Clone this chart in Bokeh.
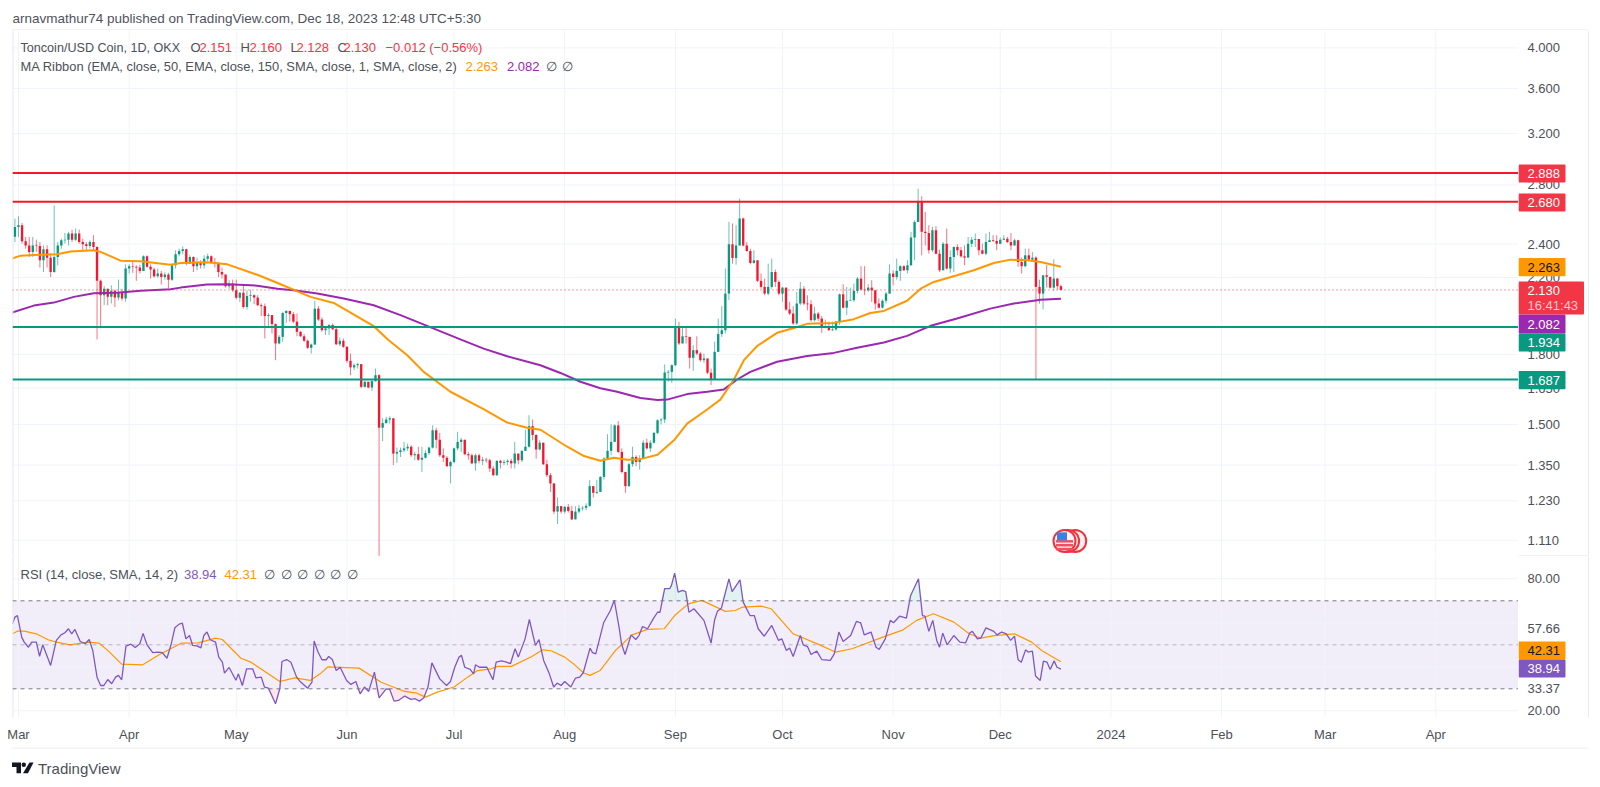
import numpy as np
from bokeh.plotting import figure
from bokeh.layouts import column, row
from bokeh.models import Range1d, FixedTicker, Span, BoxAnnotation, Label, LinearAxis, LogScale
from bokeh.core.properties import value
from bokeh.embed import file_html
from bokeh.resources import INLINE

# ---------- chart values ----------
first_day = -1   # day numbers count from 1 Mar 2023
closes = [2.510,2.521,2.418,2.392,2.352,2.392,2.388,2.301,2.368,2.317,
2.232,2.321,2.392,2.424,2.428,2.467,2.428,2.467,2.413,2.399,
2.388,2.413,2.382,2.181,2.101,2.137,2.092,2.125,2.088,2.119,
2.083,2.252,2.266,2.262,2.258,2.238,2.325,2.262,2.246,2.207,
2.223,2.203,2.217,2.188,2.271,2.337,2.358,2.368,2.281,2.321,
2.266,2.285,2.271,2.311,2.325,2.289,2.285,2.232,2.217,2.151,
2.166,2.128,2.087,2.115,2.038,2.097,2.101,2.088,2.047,2.042,
1.990,1.995,1.949,1.853,1.885,2.006,2.017,2.000,1.961,1.910,
1.888,1.866,1.832,1.848,2.029,1.972,1.918,1.927,1.944,1.923,
1.849,1.866,1.837,1.771,1.741,1.751,1.756,1.655,1.677,1.652,
1.680,1.706,1.488,1.506,1.520,1.525,1.391,1.397,1.403,1.410,
1.416,1.385,1.389,1.369,1.376,1.393,1.413,1.478,1.442,1.385,
1.376,1.346,1.361,1.410,1.434,1.442,1.389,1.385,1.356,1.385,
1.365,1.369,1.367,1.338,1.315,1.365,1.358,1.361,1.365,1.356,
1.391,1.367,1.401,1.416,1.494,1.460,1.406,1.431,1.353,1.315,
1.287,1.196,1.213,1.196,1.211,1.198,1.172,1.196,1.206,1.208,
1.214,1.278,1.256,1.259,1.309,1.373,1.401,1.434,1.497,1.397,
1.326,1.278,1.353,1.379,1.361,1.373,1.431,1.410,1.431,1.468,
1.517,1.520,1.718,1.721,1.751,1.935,1.853,1.888,1.885,1.785,
1.821,1.805,1.774,1.782,1.717,1.687,1.813,1.899,1.918,2.110,
2.399,2.315,2.392,2.565,2.392,2.358,2.285,2.301,2.181,2.147,
2.110,2.147,2.232,2.175,2.110,2.143,2.024,2.003,1.952,2.056,
2.137,2.056,2.052,1.969,2.003,1.977,1.932,1.935,1.918,1.922,
1.961,2.106,2.034,2.071,2.074,2.125,2.194,2.132,2.128,2.143,
2.128,2.056,2.034,2.071,2.110,2.223,2.203,2.238,2.266,2.242,
2.271,2.441,2.543,2.678,2.478,2.471,2.362,2.488,2.341,2.242,
2.403,2.252,2.321,2.382,2.362,2.325,2.317,2.403,2.428,2.432,
2.362,2.341,2.413,2.424,2.420,2.403,2.428,2.434,2.413,2.392,
2.424,2.291,2.266,2.331,2.305,2.317,2.147,2.110,2.213,2.204,
2.143,2.194,2.151,2.130]
first_open = 2.446
highs = [2.565,2.580,2.536,2.445,2.445,2.445,2.428,2.413,2.392,2.392,
2.345,2.654,2.413,2.434,2.471,2.478,2.492,2.499,2.492,2.434,
2.413,2.424,2.456,2.386,2.188,2.151,2.128,2.156,2.132,2.188,
2.137,2.277,2.277,2.291,2.271,2.275,2.331,2.331,2.277,2.258,
2.252,2.238,2.230,2.227,2.277,2.362,2.372,2.386,2.372,2.331,
2.325,2.317,2.301,2.331,2.341,2.331,2.315,2.291,2.258,2.213,
2.185,2.188,2.188,2.119,2.162,2.128,2.132,2.106,2.101,2.056,
2.056,2.006,1.995,1.952,1.894,2.011,2.020,2.011,2.011,2.003,
1.915,1.899,1.872,1.853,2.071,2.042,1.983,1.935,1.949,1.952,
1.932,1.882,1.877,1.840,1.805,1.759,1.762,1.751,1.680,1.677,
1.684,1.736,1.710,1.525,1.530,1.533,1.510,1.413,1.413,1.434,
1.428,1.422,1.397,1.416,1.416,1.403,1.416,1.497,1.488,1.468,
1.410,1.382,1.365,1.413,1.472,1.449,1.442,1.397,1.391,1.391,
1.391,1.379,1.376,1.373,1.346,1.367,1.369,1.369,1.371,1.373,
1.434,1.389,1.403,1.480,1.537,1.520,1.463,1.440,1.428,1.369,
1.323,1.285,1.241,1.211,1.213,1.220,1.214,1.213,1.217,1.213,
1.222,1.298,1.276,1.298,1.312,1.379,1.463,1.501,1.501,1.514,
1.410,1.326,1.358,1.416,1.385,1.385,1.440,1.446,1.440,1.472,
1.521,1.525,1.755,1.729,1.755,1.977,1.960,1.935,1.935,1.882,
1.845,1.888,1.813,1.805,1.782,1.736,1.862,1.977,2.042,2.252,
2.543,2.532,2.521,2.702,2.571,2.413,2.372,2.362,2.301,2.223,
2.194,2.281,2.311,2.246,2.185,2.147,2.143,2.065,2.042,2.119,
2.175,2.151,2.101,2.074,2.038,2.011,1.990,1.972,1.961,1.961,
1.965,2.110,2.162,2.147,2.143,2.166,2.203,2.266,2.266,2.162,
2.185,2.128,2.083,2.078,2.119,2.277,2.242,2.311,2.271,2.271,
2.301,2.478,2.554,2.773,2.718,2.609,2.521,2.510,2.515,2.366,
2.413,2.499,2.362,2.386,2.399,2.382,2.392,2.445,2.445,2.467,
2.413,2.403,2.467,2.478,2.456,2.456,2.441,2.456,2.445,2.471,
2.434,2.428,2.317,2.372,2.372,2.352,2.325,2.188,2.213,2.272,
2.204,2.307,2.198,2.160]
lows = [2.413,2.445,2.403,2.372,2.321,2.321,2.352,2.258,2.232,2.258,
2.203,2.227,2.271,2.372,2.403,2.392,2.413,2.420,2.403,2.358,
2.362,2.372,2.362,1.872,1.927,2.047,2.047,2.056,2.038,2.074,
2.071,2.065,2.223,2.227,2.181,2.223,2.258,2.256,2.194,2.200,
2.200,2.160,2.188,2.137,2.181,2.252,2.325,2.337,2.271,2.281,
2.232,2.242,2.252,2.252,2.297,2.281,2.258,2.203,2.194,2.143,
2.137,2.119,2.078,2.065,2.029,2.024,2.065,2.052,2.042,1.990,
1.877,1.935,1.902,1.774,1.849,1.861,1.955,1.961,1.955,1.888,
1.885,1.861,1.827,1.805,1.845,1.965,1.910,1.894,1.894,1.918,
1.845,1.840,1.832,1.762,1.706,1.729,1.736,1.649,1.652,1.649,
1.637,1.677,1.060,1.437,1.504,1.504,1.350,1.358,1.379,1.397,
1.401,1.379,1.367,1.365,1.326,1.373,1.385,1.410,1.410,1.379,
1.361,1.344,1.287,1.356,1.403,1.397,1.385,1.369,1.353,1.330,
1.356,1.350,1.358,1.326,1.312,1.312,1.338,1.350,1.350,1.338,
1.338,1.353,1.361,1.403,1.413,1.440,1.373,1.403,1.350,1.309,
1.259,1.188,1.158,1.190,1.190,1.193,1.170,1.183,1.190,1.199,
1.201,1.211,1.241,1.252,1.259,1.300,1.369,1.385,1.434,1.393,
1.321,1.256,1.276,1.344,1.346,1.334,1.373,1.406,1.397,1.428,
1.463,1.501,1.506,1.677,1.672,1.747,1.845,1.853,1.853,1.736,
1.726,1.797,1.767,1.762,1.711,1.663,1.684,1.813,1.885,1.902,
2.074,2.281,2.275,2.390,2.386,2.352,2.277,2.281,2.175,2.137,
2.101,2.101,2.137,2.147,2.101,2.065,2.017,1.995,1.944,1.944,
2.047,2.047,2.020,1.961,1.961,1.965,1.905,1.927,1.915,1.915,
1.915,1.944,2.029,1.995,2.071,2.065,2.110,2.128,2.101,2.119,
2.065,2.024,2.029,2.029,2.056,2.119,2.156,2.188,2.181,2.238,
2.223,2.271,2.301,2.543,2.331,2.392,2.341,2.352,2.337,2.232,
2.242,2.246,2.227,2.232,2.331,2.317,2.271,2.317,2.382,2.382,
2.331,2.337,2.331,2.413,2.413,2.362,2.399,2.424,2.407,2.362,
2.392,2.262,2.223,2.258,2.297,2.291,1.687,2.056,2.024,2.143,
2.138,2.125,2.132,2.128]

ema50_days = [-1.8,0.6,4.3,10.8,14.6,21.1,23,28.6,34.2,42.6,45.4,52.8,58.5,67.8,73.4,81.8,88.3,99.5,103.7,108.9,113.5,121,130.4,136.9,142.5,146.2,153.7,158.4,163,166.8,170.5,174.2,179,183.6,187.3,192.9,196.6,200.4,203.2,207,212.5,217.2,220.9,228.4,234,238.6,242.4,248.9,252.7,256.4,262.9,267.6,273.2,277.9,282.5,286.3,292]
ema50_vals = [2.311,2.329,2.333,2.337,2.354,2.362,2.352,2.299,2.295,2.275,2.285,2.289,2.277,2.209,2.162,2.092,2.059,1.938,1.869,1.797,1.721,1.634,1.561,1.508,1.488,1.480,1.416,1.382,1.365,1.376,1.369,1.371,1.387,1.440,1.504,1.560,1.601,1.687,1.774,1.842,1.905,1.929,1.950,1.955,1.974,2.006,2.017,2.071,2.137,2.175,2.213,2.242,2.285,2.305,2.301,2.291,2.263]
ema150_days = [-1.8,4.3,9.9,15.5,21.1,27.6,34.2,42.6,45.4,52.8,58.5,66.9,72.5,77.1,83.7,91.1,99.5,107,124.3,130.3,136.9,146.2,151.8,157.4,163,167.7,174.2,179,181.7,187.3,192.9,197.6,201.3,205,212.5,220.9,228.4,234.9,242.4,248.9,255.5,262.9,272.2,278.8,286.3,292]
ema150_vals = [2.008,2.045,2.061,2.092,2.112,2.115,2.125,2.134,2.143,2.160,2.162,2.154,2.137,2.128,2.110,2.083,2.047,1.995,1.869,1.828,1.792,1.751,1.716,1.677,1.649,1.634,1.608,1.599,1.601,1.624,1.634,1.644,1.687,1.721,1.767,1.793,1.808,1.832,1.858,1.890,1.940,1.977,2.029,2.056,2.076,2.082]

rsi_days = [-1.7,-1.0,-0.3,0.9,1.6,2.8,3.7,5.0,5.9,6.8,9.0,10.6,11.9,13.0,14.0,14.9,15.8,17.3,18.7,19.8,20.8,22.0,23.0,23.9,25.0,26.1,27.2,28.0,28.9,30.1,31.5,32.7,34.0,34.9,36.0,37.6,39.1,40.3,41.6,42.8,43.8,45.0,45.9,46.9,47.9,48.8,50.0,51.1,51.9,52.8,53.7,55.2,56.1,57.1,57.7,59.0,60.9,61.6,62.7,63.9,65.6,66.5,68.0,68.9,70.0,72.0,73.2,73.8,75.1,76.3,77.9,78.9,81.0,82.2,82.8,83.9,85.0,86.2,86.9,87.9,89.0,90.1,91.9,93.1,94.5,95.7,96.9,98.1,99.7,101.0,103.0,104.0,105.2,106.4,108.2,109.9,111.1,112.3,113.5,114.7,115.8,118.0,119.9,121.0,122.2,123.4,124.1,125.0,126.5,127.5,128.0,129.1,131.2,132.9,133.8,135.3,136.7,137.8,139.1,140.0,141.9,143.1,
144.8,145.8,147.1,148.7,149.9,150.9,152.0,153.0,154.7,156.0,157.2,158.2,160.1,160.8,161.7,163.9,165.8,166.9,168.3,168.9,169.9,171.6,172.9,173.8,174.8,176.2,177.8,179.0,179.7,181.0,182.4,182.9,183.8,184.8,186.0,186.9,187.8,189.2,192.0,194.0,195.0,195.8,196.9,199.0,199.9,202.1,203.0,204.9,206.1,207.2,208.9,211.0,212.9,213.8,215.1,216.0,217.0,219.0,219.8,221.0,222.0,223.6,225.0,227.4,228.5,229.8,231.0,233.1,234.7,235.9,236.9,238.8,240.2,241.1,242.8,244.2,245.1,246.8,248.7,249.9,252.1,253.2,253.9,255.0,256.1,257.2,258.0,258.9,260.1,262.0,263.7,265.3,266.5,267.2,268.6,269.6,271.0,273.2,274.1,275.4,276.7,277.9,279.0,280.0,280.9,282.1,282.8,284.0,284.9,286.2,287.1,288.1,289.0,290.1,290.9,292.0]
rsi_vals = [59.5,62.6,63.3,53.5,51.2,48.9,51.2,51.2,44.8,50,40.6,52,54.5,55.5,57.3,55,57,51.5,50.5,52.4,47.4,35.3,31.5,31.5,34.2,32.3,35.3,36.1,34.1,49.4,50.3,48.8,50.5,55.2,50,46.4,46.7,46.4,43.9,50.5,57.7,59.4,59.8,52.7,54.2,49.7,49.5,48.6,54.2,55.8,52.3,51.2,44.4,42.1,37.1,39.7,33.9,36.8,31.5,39.1,39.1,35,35.3,30.8,30.3,23.2,30,42.4,43.3,42.1,35.3,33.3,30.3,33,51.7,46.7,43.2,43.2,44.7,43.3,38.3,39.8,33.8,32,33.3,27.7,30.8,28.8,37.6,25.9,30,29.7,24.4,24.7,26.7,25.2,25.5,24.4,25.8,30.8,41.8,34.5,31.5,33.3,39.8,44.4,45.2,39.8,38.8,36.8,40.9,39.8,39.8,34.1,42.1,42.7,42.1,41.4,48.2,44.4,52.7,61.5,
49.7,52.4,42.9,36.8,30.8,32.6,31.5,33.3,30.8,34.8,35.3,37.3,48.5,46.4,45.9,60,65.6,70.2,57.3,50.5,45.6,54.5,52.4,54.2,58.3,57.3,61.8,64.8,64.8,75.5,75.5,77,82.6,73.9,74.7,74.2,64.8,66.4,61.1,50.8,61.4,65.3,66.7,80,74.2,79.5,69.4,63.3,63.3,57.3,53.9,58.8,52,52.7,47.4,48.5,44.7,54.2,50,49.2,45.6,47.1,43.3,42.9,45.9,55.8,51.5,54.2,60.6,60,54.5,55.8,48.9,47.9,52.7,61.1,60,63,62.1,72.4,80,63.3,63,56.1,61.1,52,48.9,55.3,50,54.2,51.2,50.9,55.5,56.1,52.7,53.2,57.7,56.1,54.5,55.8,55,52,53.9,43.2,42.1,47.7,46.7,47.1,35.8,33.8,42.6,42.1,38.8,42.7,39.8,38.94]
rsi_ma_days = [-1.7,-0.3,1.6,5.0,8.3,10.6,14.4,19.6,22.5,25.3,28.9,34.8,39.5,45.7,50.4,55.2,57.1,62.3,65.1,73.2,77.4,81.7,84.5,86.7,95.4,101.6,108.2,111.6,114.0,117.3,122.0,125.8,128.6,132.4,134.3,138.1,143.8,146.8,149.2,153,155.8,158.2,160.1,162.9,167.2,171.9,176.2,180.9,183.8,187.6,191.4,198,200.8,202.7,208,210.8,217,224.1,228.8,233.5,242.1,247.8,251.6,256.3,262,266.3,269.6,273.4,279,283.8,286.6,292]
rsi_ma_vals = [55,56.2,56.2,55,52.3,51.2,50,51.2,50.8,47,41.2,40.9,45.6,50.8,50.9,53,52.4,43.9,42.1,33.3,35,33.8,36.8,40,39.4,33,28.8,28,26.2,28.5,30.8,35.3,38.3,39.1,40.2,40.2,44.7,47.7,47.3,44.4,40.9,37.3,36.1,38.3,47.4,54.5,57,57.3,63.3,68.6,70.2,65.2,65.6,67.1,67.6,66.4,55,50.2,46.7,48.2,53.5,56.8,61.1,64.1,60.3,55,53,54.2,55,51.2,47.4,42.31]

level_prices = [2.888, 2.680, 1.934, 1.687]
level_colors = ["#ef1a24", "#ef1a24", "#089981", "#089981"]
last_price = 2.130
price_ticks = [4.0, 3.6, 3.2, 2.8, 2.4, 2.2, 1.8, 1.65, 1.5, 1.35, 1.23, 1.11]
price_tick_labels = ["4.000", "3.600", "3.200", "2.800", "2.400", "2.200", "1.800", "1.650", "1.500", "1.350", "1.230", "1.110"]
month_days = [0, 31, 61, 92, 122, 153, 184, 214, 245, 275, 306, 337, 366, 397]
month_labels = ["Mar", "Apr", "May", "Jun", "Jul", "Aug", "Sep", "Oct", "Nov", "Dec", "2024", "Feb", "Mar", "Apr"]
rsi_grid = [20, 40, 60, 80]
rsi_tick_values = [80, 57.5, 30, 20]
rsi_tick_labels = ["80.00", "57.66", "33.37", "20.00"]
rsi_levels = [70, 50, 30]
event_days = [296, 294, 293]
event_price = 1.108

FONT = "Liberation Sans"
GRID = "#f0f3fa"
BORDER = "#e6e8f2"
TEXT = "#4c5058"
RED = "#f23645"
GREEN = "#089981"
ORANGE = "#ff9800"
PURPLE = "#9c27b0"
VIOLET = "#7e57c2"
EMPTY = "\u2205"

# ---------- page geometry (image pixels) ----------
LEFT, RIGHT, TOP, SPLIT, BOTTOM, FRAME_END = 12, 1518, 30, 556, 717, 747
W, PAGE_H = 1600, 785


def bare(width, height, x_range, y_range, **kw):
    return figure(width=width, height=height, x_range=x_range, y_range=y_range, x_axis_type=None, y_axis_type=None,
                  toolbar_location=None, output_backend="svg", outline_line_color=None,
                  background_fill_color="#ffffff", border_fill_color="#ffffff",
                  min_border_left=kw.get("left", 0), min_border_right=0, min_border_top=0,
                  min_border_bottom=kw.get("bottom", 0))


def label(p, origin, x, y, text, color=TEXT, size=13, align="left", weight="normal"):
    p.add_layout(Label(x=x - origin[0], y=y - origin[1], x_units="canvas", y_units="canvas", text=text,
                       text_color=color, text_font=FONT, text_font_size=f"{size}px",
                       text_align=align, text_baseline="middle", text_font_style=weight))


def box(p, origin, l, r, t, b, color, place="center"):
    p.add_layout(BoxAnnotation(left=l - origin[0], right=r - origin[0], top=t - origin[1], bottom=b - origin[1],
                               left_units="canvas", right_units="canvas", top_units="canvas",
                               bottom_units="canvas", fill_color=color, fill_alpha=1,
                               line_color=None, border_radius=1), place)


def ticks(p, values, texts):
    p.text([RIGHT + 9] * len(values), values, text=texts, text_font=value(FONT), text_font_size="13px",
           text_color=TEXT, text_baseline="middle", text_align="left")


days = first_day + np.arange(len(closes))
c = np.array(closes)
o = np.r_[first_open, c[:-1]]
hi = np.maximum(np.array(highs), np.maximum(o, c))
lo = np.minimum(np.array(lows), np.minimum(o, c))
up = c >= o

x_range = Range1d(-1.68, 420.17)
price_range = Range1d(1.064, 4.186)
side_range = Range1d(RIGHT, W)

# ---------- header ----------
h = bare(W, TOP, Range1d(0, W), Range1d(0, TOP))
box(h, (0, 0), 11, 1588, TOP - 1, TOP, BORDER)
label(h, (0, 0), 12, 17.5, "arnavmathur74 published on TradingView.com, Dec 18, 2023 12:48 UTC+5:30", "#50535e", 13.5)

# ---------- price pane ----------
p = bare(RIGHT, SPLIT - TOP, x_range, price_range, left=LEFT)
p.y_scale = LogScale()
for d in month_days:
    p.add_layout(Span(location=d, dimension="height", line_color=GRID, line_width=1, level="underlay"))
for t in price_ticks:
    p.add_layout(Span(location=t, dimension="width", line_color=GRID, line_width=1, level="underlay"))
p.add_layout(Span(location=x_range.start, dimension="height", line_color=BORDER, line_width=2))
p.add_layout(Span(location=last_price, dimension="width", line_color=RED, line_width=1, line_dash="1 3"))
for v, col in zip(level_prices, level_colors):
    p.add_layout(Span(location=v, dimension="width", line_color=col, line_width=2))
for mask, col in ((up, GREEN), (~up, "#f7152e")):
    p.segment(days[mask], hi[mask], days[mask], lo[mask], line_color=col, line_width=1, line_alpha=0.6)
    p.vbar(days[mask], width=0.66, bottom=np.minimum(o, c)[mask], top=np.maximum(o, c)[mask],
           fill_color=col, line_color=None)
p.line(ema150_days, ema150_vals, line_color=PURPLE, line_width=2)
p.line(ema50_days, ema50_vals, line_color=ORANGE, line_width=2)

p.scatter(event_days, [event_price] * 3, size=22, fill_color="#fff0f1", line_color="#f0323c", line_width=2)
front = event_days[-1]
p.rect([front] * 3, [event_price * 0.999, event_price * 0.989, event_price * 0.979], width=17, height=2.5,
       width_units="screen", height_units="screen", fill_color="#f0505a", line_color=None)
p.rect([front - 0.7], [event_price * 1.012], width=10, height=8, width_units="screen", height_units="screen",
       fill_color="#3a82e0", line_color=None)

o1 = (0, TOP)
label(p, o1, 20, 47, "Toncoin/USD Coin, 1D, OKX", size=12.6)
for x, t, col in [(190, "O", TEXT), (199, "2.151", RED), (240, "H", TEXT), (249, "2.160", RED), (290, "L", TEXT),
                  (296, "2.128", RED), (337, "C", TEXT), (343, "2.130", RED), (385, "\u22120.012 (\u22120.56%)", RED)]:
    label(p, o1, x, 47, t, col)
label(p, o1, 20, 65.5, "MA Ribbon (EMA, close, 50, EMA, close, 150, SMA, close, 1, SMA, close, 2)", size=12.9)
label(p, o1, 465, 65.5, "2.263", ORANGE)
label(p, o1, 506.5, 65.5, "2.082", PURPLE)
label(p, o1, 550.7, 65.5, EMPTY, align="center")
label(p, o1, 566.7, 65.5, EMPTY, align="center")

# price scale column
pr = bare(W - RIGHT, SPLIT - TOP, side_range, price_range)
pr.y_scale = LogScale()
ticks(pr, price_ticks, price_tick_labels)
o2 = (RIGHT, TOP)
box(pr, o2, 1587.5, 1588.5, TOP, SPLIT, BORDER)
box(pr, o2, RIGHT, 1588, SPLIT - 1, SPLIT, "#e0e3eb")
for t, b, col, txt, tc in [(164, 182, RED, "2.888", "#ffffff"), (193, 211, RED, "2.680", "#ffffff"),
                           (257.5, 275.7, ORANGE, "2.263", "#131722"), (333, 351, GREEN, "1.934", "#ffffff"),
                           (314, 333, PURPLE, "2.082", "#ffffff"), (370.5, 388.7, GREEN, "1.687", "#ffffff")]:
    box(pr, o2, RIGHT, 1565, t, b, col)
    label(pr, o2, 1527, (t + b) / 2, txt, tc)
box(pr, o2, RIGHT, 1583.5, 281, 314, RED)
label(pr, o2, 1527, 290, "2.130", "#ffffff")
label(pr, o2, 1527, 305, "16:41:43", "#ffc9ce")

# ---------- RSI pane ----------
Y = lambda px: 50 - (px - 644.3) / 2.2
rsi_range = Range1d(Y(BOTTOM), Y(SPLIT))
q = bare(RIGHT, FRAME_END - SPLIT, x_range, rsi_range, left=LEFT, bottom=FRAME_END - BOTTOM)
xax = LinearAxis(ticker=FixedTicker(ticks=month_days),
                 major_label_overrides=dict(zip(month_days, month_labels)),
                 major_label_text_font=FONT, major_label_text_font_size="13px", major_label_text_color=TEXT,
                 major_tick_line_color=None, minor_tick_line_color=None, axis_line_color=None,
                 major_tick_out=0, major_label_standoff=9)
q.add_layout(xax, "below")
q.add_layout(BoxAnnotation(bottom=rsi_levels[2], top=rsi_levels[0], fill_color=VIOLET, fill_alpha=0.1,
                           line_color=None, level="underlay"))
for d in month_days:
    q.add_layout(Span(location=d, dimension="height", line_color=GRID, line_width=1, level="underlay"))
for t in rsi_grid:
    q.add_layout(Span(location=t, dimension="width", line_color=GRID, line_width=1, level="underlay"))
q.add_layout(Span(location=x_range.start, dimension="height", line_color=BORDER, line_width=2))
for lv, al in zip(rsi_levels, (1, 0.5, 1)):
    q.add_layout(Span(location=lv, dimension="width", line_color="#787b86", line_width=1, line_dash="4 4", line_alpha=al))

rd = np.array(rsi_days)
rv = np.array(rsi_vals)
q.varea(rd, np.full_like(rv, 70.0), np.maximum(rv, 70), fill_color=GREEN, fill_alpha=0.12)
q.varea(rd, np.minimum(rv, 30), np.full_like(rv, 30.0), fill_color=RED, fill_alpha=0.12)
q.line(rsi_ma_days, rsi_ma_vals, line_color=ORANGE, line_width=1.2)
q.line(rsi_days, rsi_vals, line_color=VIOLET, line_width=1.3)

o3 = (0, SPLIT)
label(q, o3, 20, 574, "RSI (14, close, SMA, 14, 2)")
label(q, o3, 183.5, 574, "38.94", VIOLET)
label(q, o3, 224, 574, "42.31", ORANGE)
for x in [269, 285.7, 302, 318.5, 335.4, 352.3]:
    label(q, o3, x, 574, EMPTY, align="center")

# RSI scale column: its frame lines up with the RSI pane's frame in the row
qr = bare(W - RIGHT, FRAME_END - SPLIT, side_range, rsi_range, bottom=FRAME_END - BOTTOM)
ticks(qr, rsi_tick_values, rsi_tick_labels)
o4 = (RIGHT, SPLIT)
box(qr, o4, 1587.5, 1588.5, SPLIT, FRAME_END, BORDER, place="below")
box(qr, o4, RIGHT, 1565, 641, 659, ORANGE)
label(qr, o4, 1527, 650, "42.31", "#131722")
box(qr, o4, RIGHT, 1565, 659, 677, VIOLET)
label(qr, o4, 1527, 668, "38.94", "#ffffff")

# ---------- footer with the TradingView logo ----------
f = bare(W, PAGE_H - FRAME_END, Range1d(0, W), Range1d(PAGE_H, FRAME_END))
o5 = (0, FRAME_END)
box(f, o5, 11, 1588, FRAME_END, FRAME_END + 1, BORDER)
f.patches([[11.5, 20.5, 20.5, 16, 16, 11.5], [29, 33, 27.5, 22.5]],
          [[762, 762, 772.7, 772.7, 766.5, 766.5], [762, 762, 772.7, 772.7]], fill_color="#131722", line_color=None)
f.scatter([23.3], [764.2], size=4.4, fill_color="#131722", line_color=None)
label(f, o5, 37.5, 768, "TradingView", "#4c5058", 15)

layout = column(h, row(p, pr, spacing=0), row(q, qr, spacing=0), f, spacing=0)
open("out.html", "w").write(file_html(layout, INLINE))
